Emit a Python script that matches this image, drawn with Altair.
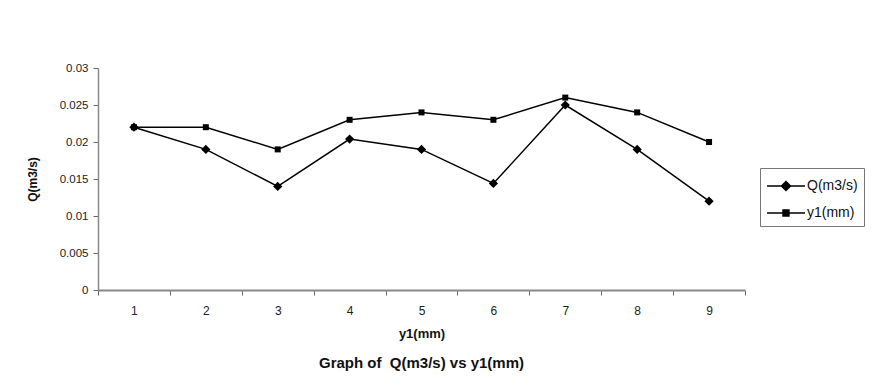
import altair as alt
import pandas as pd

categories = [1, 2, 3, 4, 5, 6, 7, 8, 9]
q_values = [0.022, 0.019, 0.014, 0.0204, 0.019, 0.0144, 0.025, 0.019, 0.012]
y1_values = [0.022, 0.022, 0.019, 0.023, 0.024, 0.023, 0.026, 0.024, 0.020]
series_names = ["Q(m3/s)", "y1(mm)"]

rows = []
for c, q, y in zip(categories, q_values, y1_values):
    rows.append({"x": c, "value": q, "series": series_names[0]})
    rows.append({"x": c, "value": y, "series": series_names[1]})
df = pd.DataFrame(rows)

FONT = "Liberation Sans"

x_enc = alt.X(
    "x:O",
    scale=alt.Scale(paddingInner=0, paddingOuter=0),
    axis=alt.Axis(
        title="y1(mm)", labelAngle=0, tickBand="extent", grid=False,
        domainColor="#888888", domainWidth=2, tickColor="#666666", tickSize=5,
        labelFont=FONT, labelFontSize=12, labelColor="#222222", labelPadding=10,
        titleFont=FONT, titleFontSize=13, titleFontWeight="bold", titlePadding=11,
        titleColor="#111111",
    ),
)
y_enc = alt.Y(
    "value:Q",
    scale=alt.Scale(domain=[0, 0.03], nice=False),
    axis=alt.Axis(
        title="Q(m3/s)", values=[0, 0.005, 0.01, 0.015, 0.02, 0.025, 0.03],
        format="~g", grid=False, domainColor="#888888", domainWidth=1.5,
        tickColor="#666666", tickSize=5, labelFont=FONT, labelFontSize=11.5,
        labelColor="#222222", labelPadding=5, titleFont=FONT, titleFontSize=12,
        titleFontWeight="bold", titlePadding=20, titleColor="#111111",
    ),
)

lines = alt.Chart(df).mark_line(color="black", strokeWidth=1.5).encode(
    x=x_enc, y=y_enc, detail="series:N"
)

points = alt.Chart(df).mark_point(filled=True, color="black", opacity=1).encode(
    x=x_enc,
    y=y_enc,
    shape=alt.Shape("series:N", scale=alt.Scale(domain=series_names, range=["diamond", "square"]), legend=None),
    size=alt.Size("series:N", scale=alt.Scale(domain=series_names, range=[85, 36]), legend=None),
)

# legend glyphs: line segment with a marker, extending to the left of the symbol box
diamond_path = "M-2.45,0H-1.14M-0.32,0H1M-0.73,-0.41L-0.32,0L-0.73,0.41L-1.14,0Z"
square_path = "M-2.45,0H-1.0M-0.46,0H1M-1.0,-0.27H-0.46V0.27H-1.0Z"

legend_layer = alt.Chart(df).transform_filter("false").mark_point(
    filled=True, fill="black", stroke="black", strokeWidth=1.5, opacity=1
).encode(
    shape=alt.Shape(
        "series:N",
        scale=alt.Scale(domain=series_names, range=[diamond_path, square_path]),
        legend=alt.Legend(
            title=None, orient="none", legendX=662, legendY=100,
            strokeColor="#777777", padding=6, symbolSize=484, symbolOffset=16,
            symbolStrokeWidth=1.5, labelFont=FONT, labelFontSize=14,
            labelColor="#111111", rowPadding=7, labelOffset=1,
        ),
    )
)

chart = alt.layer(lines, points, legend_layer).resolve_scale(
    shape="independent", size="independent"
).properties(
    width=647,
    height=222,
    background="white",
    autosize=alt.AutoSizeParams(type="none"),
    padding={"left": 98, "top": 68, "right": 127, "bottom": 97},
    title=alt.TitleParams(
        "Graph of\u00a0 Q(m3/s) vs y1(mm)", orient="bottom", anchor="middle",
        font=FONT, fontSize=15, fontWeight="bold", color="#111111", offset=16,
    ),
).configure_view(strokeWidth=0, stroke="transparent")

chart.save("out.html", embed_options={"renderer": "svg", "actions": False})
